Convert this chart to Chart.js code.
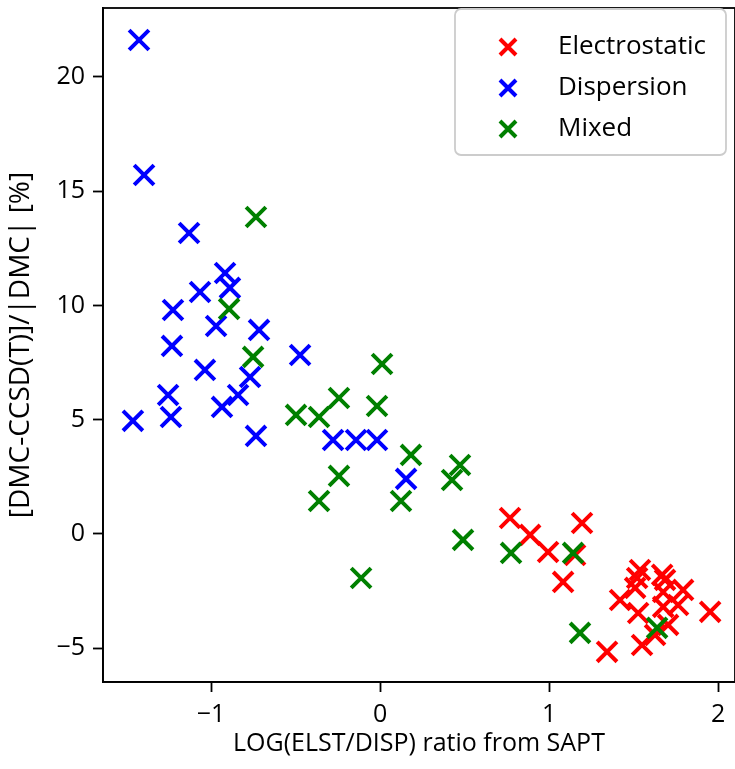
<!DOCTYPE html>
<html>
<head>
<meta charset="utf-8">
<script src="https://cdn.jsdelivr.net/npm/chart.js@4"></script>
<style>
    html, body { margin: 0; padding: 0; background: #fff; }
    #wrap { width: 735px; height: 769px; }
</style>
</head>
<body>
<div id="wrap"><canvas id="scatter-chart" width="735" height="769"></canvas></div>
<script>
(function() {
    'use strict';

    // ===========================================
    // DATA
    // ===========================================
    const labels = ['Electrostatic', 'Dispersion', 'Mixed'];
    const colors = ['#ff0000', '#0000ff', '#008000'];

    const elstX = [0.769, 0.888, 0.994, 1.195, 1.154, 1.083, 1.538, 1.521, 1.669, 1.686, 1.509,
                   1.793, 1.420, 1.675, 1.763, 1.675, 1.527, 1.953, 1.704, 1.627, 1.550, 1.343];
    const elstY = [0.70, -0.04, -0.79, 0.48, -0.92, -2.10, -1.58, -1.93, -1.79, -2.01, -2.36,
                   -2.45, -2.89, -2.54, -3.11, -3.19, -3.46, -3.41, -3.98, -4.42, -4.86, -5.16];

    const dispX = [-1.426, -1.396, -1.130, -0.917, -0.888, -1.065, -1.225, -0.970, -0.716, -1.231, -0.473, -1.036,
                   -0.769, -0.840, -1.254, -0.935, -1.237, -1.462, -0.734, -0.278, -0.142, -0.018, 0.154];
    const dispY = [21.62, 15.71, 13.17, 11.42, 10.77, 10.59, 9.80, 9.10, 8.93, 8.23, 7.83, 7.18,
                   6.87, 6.08, 6.08, 5.56, 5.12, 4.95, 4.29, 4.11, 4.11, 4.11, 2.41];

    const mixX = [-0.734, -0.893, -0.751, 0.012, -0.497, -0.243, -0.361, -0.018, 0.183, -0.243,
                  -0.361, 0.124, 0.473, 0.426, 0.491, 0.775, -0.112, 1.142, 1.183, 1.639];
    const mixY = [13.87, 9.85, 7.75, 7.44, 5.21, 5.95, 5.12, 5.60, 3.46, 2.54,
                  1.44, 1.44, 3.02, 2.36, -0.26, -0.83, -1.93, -0.83, -4.33, -4.11];

    const xTicks = [-1, 0, 1, 2];
    const yTicks = [-5, 0, 5, 10, 15, 20];

    const FONT = '"Open Sans", sans-serif';
    const FONT_SIZE = 25;

    // ===========================================
    // HELPERS
    // ===========================================
    function toPoints(xs, ys) {
        return xs.map((x, i) => ({ x: x, y: ys[i] }));
    }

    function formatTick(v) {
        return v < 0 ? '\u2212' + Math.abs(v) : String(v);
    }

    // box around the plot + legend in the top right corner
    const framePlugin = {
        id: 'frame',
        afterDatasetsDraw(chart) {
            const a = chart.chartArea;
            const ctx = chart.ctx;
            ctx.save();
            ctx.strokeStyle = '#000';
            ctx.lineWidth = 1.8;
            ctx.strokeRect(a.left, a.top, a.right - a.left, a.bottom - a.top);

            // legend
            const bx = 455, by = 9, bw = 271, bh = 146, r = 6;
            ctx.beginPath();
            ctx.moveTo(bx + r, by);
            ctx.arcTo(bx + bw, by, bx + bw, by + bh, r);
            ctx.arcTo(bx + bw, by + bh, bx, by + bh, r);
            ctx.arcTo(bx, by + bh, bx, by, r);
            ctx.arcTo(bx, by, bx + bw, by, r);
            ctx.closePath();
            ctx.fillStyle = 'rgba(255,255,255,0.8)';
            ctx.fill();
            ctx.strokeStyle = '#cccccc';
            ctx.lineWidth = 1.8;
            ctx.stroke();

            ctx.font = '26px ' + FONT;
            ctx.textBaseline = 'middle';
            ctx.textAlign = 'left';
            labels.forEach((label, i) => {
                const cy = 47 + i * 41;
                const cx = 508;
                const s = 8;
                ctx.strokeStyle = colors[i];
                ctx.lineWidth = 4;
                ctx.beginPath();
                ctx.moveTo(cx - s, cy - s); ctx.lineTo(cx + s, cy + s);
                ctx.moveTo(cx - s, cy + s); ctx.lineTo(cx + s, cy - s);
                ctx.stroke();
                ctx.fillStyle = '#000';
                ctx.fillText(label, 558, cy);
            });
            ctx.restore();
        }
    };

    // ===========================================
    // CHART
    // ===========================================
    function makeDataset(i, xs, ys, order) {
        return {
            label: labels[i],
            data: toPoints(xs, ys),
            pointStyle: 'crossRot',
            pointRadius: 14,
            pointHoverRadius: 14,
            borderColor: colors[i],
            backgroundColor: colors[i],
            pointBorderWidth: 4,
            order: order
        };
    }

    const axisGrid = {
        display: true,
        drawOnChartArea: false,
        drawTicks: true,
        tickLength: 10,
        tickWidth: 1.8,
        color: '#000'
    };

    const ctx = document.getElementById('scatter-chart');
    new Chart(ctx, {
        type: 'scatter',
        data: {
            datasets: [
                makeDataset(0, elstX, elstY, 2),
                makeDataset(1, dispX, dispY, 1),
                makeDataset(2, mixX, mixY, 0)
            ]
        },
        options: {
            responsive: false,
            animation: false,
            devicePixelRatio: 1,
            layout: { autoPadding: false, padding: { top: 8, right: 0, left: 0, bottom: 0 } },
            plugins: {
                legend: { display: false },
                tooltip: { enabled: false }
            },
            scales: {
                x: {
                    type: 'linear',
                    min: -1.639,
                    max: 2.1,
                    afterFit: function(scale) {
                        scale.height = 87;
                        scale.paddingLeft = 0;
                        scale.paddingRight = 0;
                    },
                    afterBuildTicks: function(scale) {
                        scale.ticks = xTicks.map(v => ({ value: v }));
                    },
                    ticks: {
                        color: '#000',
                        padding: 8,
                        font: { family: FONT, size: FONT_SIZE },
                        callback: formatTick
                    },
                    grid: axisGrid,
                    border: { display: true, color: '#000', width: 1.8 },
                    title: {
                        display: true,
                        text: 'LOG(ELST/DISP) ratio from SAPT',
                        color: '#000',
                        font: { family: FONT, size: FONT_SIZE },
                        padding: { top: 0, bottom: 10 }
                    }
                },
                y: {
                    type: 'linear',
                    min: -6.48,
                    max: 23.02,
                    afterFit: function(scale) {
                        scale.width = 103;
                        scale.paddingTop = 0;
                        scale.paddingBottom = 0;
                    },
                    afterBuildTicks: function(scale) {
                        scale.ticks = yTicks.map(v => ({ value: v }));
                    },
                    ticks: {
                        color: '#000',
                        padding: 8,
                        font: { family: FONT, size: FONT_SIZE },
                        callback: formatTick
                    },
                    grid: axisGrid,
                    border: { display: true, color: '#000', width: 1.8 },
                    title: {
                        display: true,
                        text: '[DMC-CCSD(T)]/|DMC| [%]',
                        color: '#000',
                        font: { family: FONT, size: 28 },
                        padding: { top: 4, bottom: 0 }
                    }
                }
            }
        },
        plugins: [framePlugin]
    });
})();
</script>
</body>
</html>
